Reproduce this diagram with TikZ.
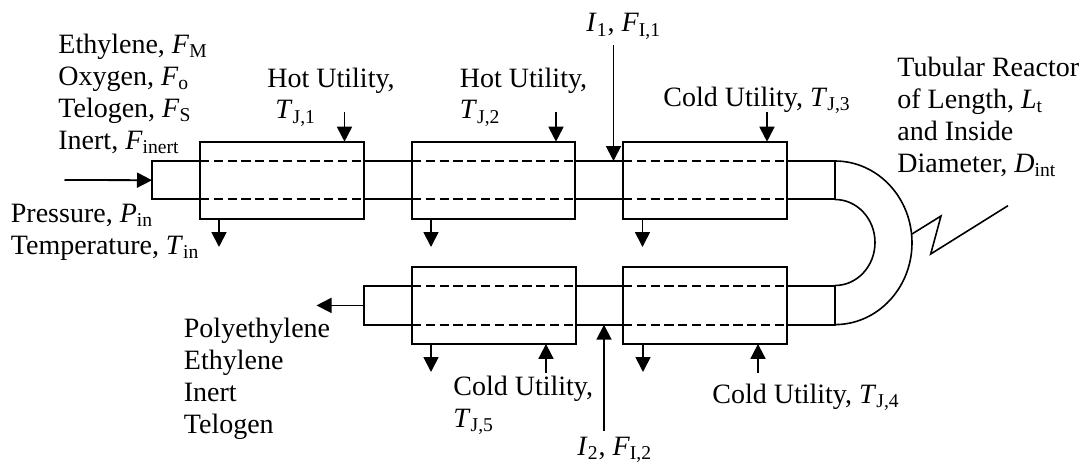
\documentclass[tikz,border=0pt]{standalone}
\usepackage{fontspec}
\setmainfont{Liberation Serif}
\usetikzlibrary{arrows.meta,calc}
\newcommand{\Sub}[2]{\textit{#1}\textsubscript{#2}}

\begin{document}
\begin{tikzpicture}[x=0.5pt,y=-0.5pt,>={Triangle[length=7.5pt,width=7.5pt]},
  every node/.style={font=\fontsize{14}{16}\selectfont},
  lab/.style={anchor=base west,align=left,inner sep=0pt},
  jacket/.style={draw,line width=1pt,inner sep=0pt,outer sep=0pt,
                 minimum height=38.5pt},
  tube/.style={line width=1pt},
  flow/.style={->,line width=0.9pt}]
 \useasboundingbox (0,0) rectangle (1089,466);
 % jackets, top row then bottom row
 \node[jacket,minimum width=82pt] (jacket1) at (282,180.2) {};
 \node[jacket,minimum width=81.5pt] (jacket2) at (493.5,180.2) {};
 \node[jacket,minimum width=82pt] (jacket3) at (705,180.2) {};
 \node[jacket,minimum width=82pt] (jacket4) at (494,305.4) {};
 \node[jacket,minimum width=82pt] (jacket5) at (705,305.4) {};
 % free ends
 \coordinate (feed) at (64.5,180);
 \coordinate (capin) at (152,180.2);
 \coordinate (capout) at (364,305.4);
 \coordinate (bendtop) at (835,180.2);
 \coordinate (bendlow) at (835,305.4);
 \coordinate (product) at (316.5,305.4);
 % dashed tube inside each jacket
 \foreach \j in {jacket1,jacket2,jacket3,jacket4,jacket5} {
   \draw[tube,dashed,dash pattern=on 4.6pt off 2.3pt]
     ($(\j.north west)!.25!(\j.south west)$) -- ($(\j.north east)!.25!(\j.south east)$);
   \draw[tube,dashed,dash pattern=on 4.6pt off 2.3pt]
     ($(\j.north west)!.75!(\j.south west)$) -- ($(\j.north east)!.75!(\j.south east)$);
 }
 % tube between jackets
 \foreach \a/\b in {jacket1/jacket2,jacket2/jacket3,jacket4/jacket5} {
   \draw[tube] ($(\a.north east)!.25!(\a.south east)$) -- ($(\b.north west)!.25!(\b.south west)$);
   \draw[tube] ($(\a.north east)!.75!(\a.south east)$) -- ($(\b.north west)!.75!(\b.south west)$);
 }
 % inlet and outlet caps
 \draw[tube] ($(jacket1.north west)!.25!(jacket1.south west)$) -| (capin)
   |- ($(jacket1.north west)!.75!(jacket1.south west)$);
 \draw[tube] ($(jacket4.north west)!.25!(jacket4.south west)$) -| (capout)
   |- ($(jacket4.north west)!.75!(jacket4.south west)$);
 % bend at the right
 \draw[tube] ($(jacket3.north east)!.25!(jacket3.south east)$) -| (bendtop)
   |- ($(jacket3.north east)!.75!(jacket3.south east)$);
 \draw[tube] ($(jacket5.north east)!.25!(jacket5.south east)$) -| (bendlow)
   |- ($(jacket5.north east)!.75!(jacket5.south east)$);
 \draw[line width=0.8pt] (835,161) arc[start angle=-90,end angle=90,x radius=77,y radius=81.8];
 \draw[line width=0.8pt] (835,199.5) arc[start angle=-90,end angle=90,x radius=40,y radius=43];
 % break mark
 \coordinate (zig) at (912,234);
 \draw[line width=0.8pt] (zig) -- (941,216) -- (930.7,254) -- (1008,205.7);
 % feed and product
 \draw[flow] (feed) -- (capin);
 \draw[flow] (capout) -- (product);
 % utility in
 \coordinate (hot1) at (344.5,112);
 \coordinate (hot2) at (556,112);
 \coordinate (cold3) at (767,112);
 \coordinate (cold4) at (758,373);
 \coordinate (cold5) at (546,373);
 \draw[flow] (hot1) -- (hot1 |- jacket1.north);
 \draw[flow] (hot2) -- (hot2 |- jacket2.north);
 \draw[flow] (cold3) -- (cold3 |- jacket3.north);
 \draw[flow] (cold4) -- (cold4 |- jacket5.south);
 \draw[flow] (cold5) -- (cold5 |- jacket4.south);
 % utility out
 \coordinate (drain1) at (219,247);
 \coordinate (drain2) at (431,247);
 \coordinate (drain3) at (642.5,247);
 \coordinate (drain4) at (431,372);
 \coordinate (drain5) at (643,372);
 \draw[flow] (drain1 |- jacket1.south) -- (drain1);
 \draw[flow] (drain2 |- jacket2.south) -- (drain2);
 \draw[flow] (drain3 |- jacket3.south) -- (drain3);
 \draw[flow] (drain4 |- jacket4.south) -- (drain4);
 \draw[flow] (drain5 |- jacket5.south) -- (drain5);
 % initiators
 \coordinate (init1) at (613.5,45);
 \coordinate (init1end) at (613.5,161);
 \coordinate (init2) at (604,431);
 \coordinate (init2end) at (604,324.7);
 \draw[flow] (init1) -- (init1end);
 \draw[flow] (init2) -- (init2end);
 % labels
 \node[lab] (feedtext) at (58,149) {Ethylene, \Sub{F}{M}\\Oxygen, \Sub{F}{o}\\Telogen, \Sub{F}{S}\\Inert, \Sub{F}{inert}};
 \node[lab] (pressure) at (10.5,254) {Pressure, \Sub{P}{in}\\Temperature, \Sub{T}{in}};
 \node[lab] (hottext1) at (267,119) {Hot Utility,\\\hspace{4pt}\Sub{T}{J,1}};
 \node[lab] (hottext2) at (459.5,119) {Hot Utility,\\\Sub{T}{J,2}};
 \node[lab] (inittext1) at (586,32) {\Sub{I}{1}, \Sub{F}{I,1}};
 \node[lab] (coldtext3) at (663,106) {Cold Utility, \Sub{T}{J,3}};
 \node[lab] (reactor) at (897,172) {Tubular Reactor\\of Length, \Sub{L}{t}\\and Inside\\Diameter, \Sub{D}{int}};
 \node[lab] (products) at (183.5,433) {Polyethylene\\Ethylene\\Inert\\Telogen};
 \node[lab] (coldtext5) at (453,427) {Cold Utility,\\\Sub{T}{J,5}};
 \node[lab] (inittext2) at (577,455) {\Sub{I}{2}, \Sub{F}{I,2}};
 \node[lab] (coldtext4) at (712,403) {Cold Utility, \Sub{T}{J,4}};
\end{tikzpicture}
\end{document}
